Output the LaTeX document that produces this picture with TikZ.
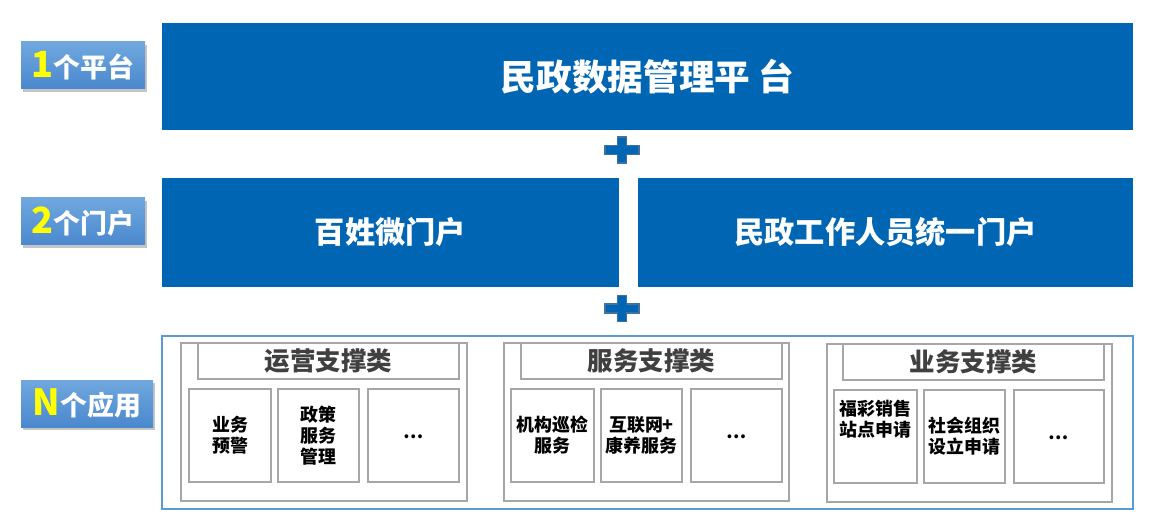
\documentclass[tikz,border=0pt]{standalone}
\usepackage{fontspec}
\setmainfont{Noto Sans CJK SC}
\usetikzlibrary{shadows}
\definecolor{mainblue}{HTML}{0066B3}
\definecolor{plusedge}{HTML}{41719C}
\definecolor{labtop}{HTML}{70A8DE}
\definecolor{labbot}{HTML}{4A88CE}
\definecolor{outerline}{HTML}{5B9BD5}
\definecolor{grayline}{HTML}{A6A6A6}
\definecolor{titlegray}{HTML}{404040}
\definecolor{numyellow}{HTML}{FFFF00}
\newcommand\pxbox[7]{\node[#6, minimum width={(#4-#2)*0.02cm}, minimum height={(#5-#3)*0.02cm}] (#1) at ({(#2+#4)/2},{(#3+#5)/2}) {#7};}
\begin{document}
\begin{tikzpicture}[x=0.02cm,y=-0.02cm,
  every node/.style={inner sep=0pt, outer sep=0pt, align=center, font=\bfseries},
  bluebox/.style={rectangle, fill=mainblue, text=white},
  bigtext/.style={font=\bfseries\fontsize{20.3}{23}\selectfont},
  portaltext/.style={font=\bfseries\fontsize{17.2}{20}\selectfont},
  labelbox/.style={rectangle, top color=labtop, bottom color=labbot, text=white,
     drop shadow={shadow xshift=1.2pt, shadow yshift=-1.5pt, fill=black!45, opacity=0.5}},
  outerbox/.style={rectangle, draw=outerline, line width=0.6pt},
  groupbox/.style={rectangle, draw=grayline, line width=0.7pt},
  titlebox/.style={rectangle, draw=grayline, line width=0.7pt, text=titlegray,
     font=\bfseries\fontsize{14.5}{17}\selectfont},
  itembox/.style={rectangle, draw=grayline, line width=0.7pt, text=black,
     font=\bfseries\fontsize{10.2}{12}\selectfont},
  plussign/.style={fill=mainblue, draw=plusedge, line width=0.6pt}
]
\useasboundingbox (0,0) rectangle (1150,530);

% left labels
\pxbox{lab1}{21}{42}{145}{89}{labelbox}{{\color{numyellow}\fontsize{20.5}{22}\selectfont 1}{\fontsize{15.3}{16}\selectfont 个平台}}
\pxbox{lab2}{21}{198}{145}{245}{labelbox}{{\color{numyellow}\fontsize{20.5}{22}\selectfont 2}{\fontsize{15.3}{16}\selectfont 个门户}}
\pxbox{lab3}{21}{380}{153}{427}{labelbox}{{\color{numyellow}\fontsize{20.5}{22}\selectfont N}{\fontsize{15.3}{16}\selectfont 个应用}}

% platform
\pxbox{platform}{162}{23}{1133}{130}{bluebox,bigtext}{民政数据管理平 台}

% plus 1
\node (plusA) at (622,150) {};
\begin{scope}[shift={(plusA)}]
\draw[plussign] (-17,-4.5) -- (-4.5,-4.5) -- (-4.5,-13) -- (4.5,-13) -- (4.5,-4.5) -- (17,-4.5) -- (17,4.5) -- (4.5,4.5) -- (4.5,13) -- (-4.5,13) -- (-4.5,4.5) -- (-17,4.5) -- cycle;
\end{scope}

% portals
\pxbox{portalL}{162}{178}{619}{287}{bluebox,portaltext}{百姓微门户}
\pxbox{portalR}{638}{178}{1133}{287}{bluebox,portaltext}{民政工作人员统一门户}

% plus 2
\node (plusB) at (622,308.5) {};
\begin{scope}[shift={(plusB)}]
\draw[plussign] (-17,-4.5) -- (-4.5,-4.5) -- (-4.5,-13) -- (4.5,-13) -- (4.5,-4.5) -- (17,-4.5) -- (17,4.5) -- (4.5,4.5) -- (4.5,13) -- (-4.5,13) -- (-4.5,4.5) -- (-17,4.5) -- cycle;
\end{scope}

% applications
\pxbox{apps}{162}{336}{1133}{509}{outerbox}{}

% group 1
\pxbox{g1}{181}{343}{467}{501}{groupbox}{}
\pxbox{g1t}{198}{343}{459}{379}{titlebox}{\raisebox{-2pt}{运营支撑类}}
\pxbox{g1a}{189}{389}{271}{482}{itembox}{业务\\预警}
\pxbox{g1b}{278}{389}{359}{482}{itembox}{政策\\服务\\管理}
\pxbox{g1c}{368}{389}{459}{482}{itembox}{\raisebox{-3pt}{…}}

% group 2
\pxbox{g2}{504}{343}{789}{501}{groupbox}{}
\pxbox{g2t}{521}{343}{782}{379}{titlebox}{\raisebox{-2pt}{服务支撑类}}
\pxbox{g2a}{511}{389}{594}{482}{itembox}{机构巡检\\服务}
\pxbox{g2b}{601}{389}{682}{482}{itembox}{互联网+\\康养服务}
\pxbox{g2c}{691}{389}{782}{482}{itembox}{\raisebox{-3pt}{…}}

% group 3
\pxbox{g3}{827}{344}{1112}{502}{groupbox}{}
\pxbox{g3t}{843}{344}{1104}{380}{titlebox}{\raisebox{-2pt}{业务支撑类}}
\pxbox{g3a}{834}{390}{917}{483}{itembox}{福彩销售\\站点申请\\[9pt]}
\pxbox{g3b}{924}{390}{1005}{483}{itembox}{社会组织\\设立申请}
\pxbox{g3c}{1014}{390}{1104}{483}{itembox}{\raisebox{-3pt}{…}}
\end{tikzpicture}
\end{document}
